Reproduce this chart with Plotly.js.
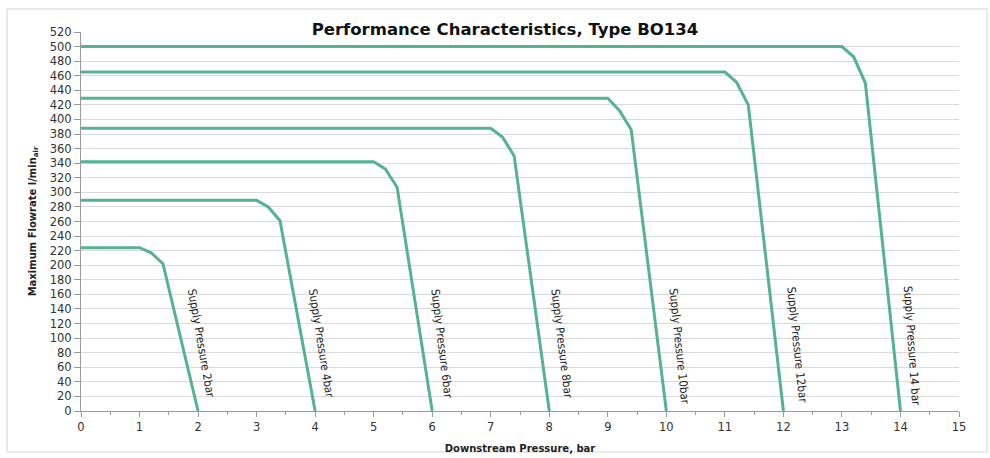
<!DOCTYPE html>
<html>
<head>
<meta charset="utf-8">
<script src="https://cdn.plot.ly/plotly-3.0.1.min.js"></script>
<style>html,body{margin:0;padding:0;background:#fff;}#chart{width:990px;height:458px;}</style>
</head>
<body>
<div id="chart"></div>
<script>
// ---- data ----
const seriesNames = ["Supply Pressure 2bar", "Supply Pressure 4bar", "Supply Pressure 6bar",
  "Supply Pressure 8bar", "Supply Pressure 10bar", "Supply Pressure 12bar", "Supply Pressure 14 bar"];
const x2 = [0, 1.0, 1.2, 1.4, 2.0];
const y2 = [224, 224, 217, 202, 0];
const x4 = [0, 3.0, 3.2, 3.4, 4.0];
const y4 = [289, 289, 280, 261, 0];
const x6 = [0, 5.0, 5.2, 5.4, 6.0];
const y6 = [342, 342, 332, 307, 0];
const x8 = [0, 7.0, 7.2, 7.4, 8.0];
const y8 = [388, 388, 376, 350, 0];
const x10 = [0, 9.0, 9.2, 9.4, 10.0];
const y10 = [429, 429, 412, 386, 0];
const x12 = [0, 11.0, 11.2, 11.4, 12.0];
const y12 = [465, 465, 451, 420, 0];
const x14 = [0, 13.0, 13.2, 13.4, 14.0];
const y14 = [500, 500, 486, 450, 0];
const xs = [x2, x4, x6, x8, x10, x12, x14];
const ys = [y2, y4, y6, y8, y10, y12, y14];

// ---- label placement (style) ----
const labelX = [2.05, 4.1, 6.16, 8.21, 10.22, 12.23, 14.19];
const labelY = [93, 93, 93, 93, 89, 90, 90];
const labelAngle = [80, 81, 83, 83, 84, 84, 86];

const lineColor = "#55b293";
const traces = xs.map((x, i) => ({
  x: x, y: ys[i], type: "scatter", mode: "lines", name: seriesNames[i],
  line: {color: lineColor, width: 3}, hoverinfo: "skip"
}));

const annotations = seriesNames.map((t, i) => ({
  x: labelX[i], y: labelY[i], xref: "x", yref: "y", text: t, showarrow: false,
  textangle: labelAngle[i],
  font: {family: "Liberation Sans Narrow, DejaVu Sans Condensed, sans-serif", size: 11.5, color: "#222"}
}));

const L = 81, R = 959, T = 32, B = 411, W = 990, H = 458;
const pw = R - L, ph = B - T;
const shapes = [{
  type: "rect", xref: "paper", yref: "paper",
  x0: (7 - L) / pw, x1: (987 - L) / pw, y0: (B - 452) / ph, y1: (B - 9) / ph,
  line: {color: "#d4d4d4", width: 1}, fillcolor: "rgba(0,0,0,0)", layer: "below"
}];

const layout = {
  width: W, height: H,
  margin: {l: L, r: W - R, t: T, b: H - B, pad: 0},
  paper_bgcolor: "#fff", plot_bgcolor: "#fff",
  showlegend: false,
  title: {
    text: "<b>Performance Characteristics, Type BO134</b>",
    font: {family: "DejaVu Sans, Verdana, sans-serif", size: 16.5, color: "#111"},
    x: 505 / W, xanchor: "center", y: 1 - 29 / H, yanchor: "middle"
  },
  xaxis: {
    range: [0, 15], dtick: 1, tick0: 0,
    showgrid: false, zeroline: false,
    showline: true, linecolor: "#9a9a9a", linewidth: 1,
    ticks: "outside", ticklen: 5, tickcolor: "#9a9a9a",
    minor: {dtick: 0.5, ticks: "outside", ticklen: 3, tickcolor: "#9a9a9a", showgrid: false},
    tickfont: {family: "DejaVu Sans, Verdana, sans-serif", size: 11.5, color: "#333"},
    title: {text: "<b>Downstream Pressure, bar</b>", standoff: 12,
      font: {family: "DejaVu Sans, Verdana, sans-serif", size: 10, color: "#222"}},
    fixedrange: true
  },
  yaxis: {
    range: [0, 520], dtick: 20, tick0: 0,
    showgrid: true, gridcolor: "#dadada", gridwidth: 1,
    zeroline: false,
    showline: true, linecolor: "#9a9a9a", linewidth: 1,
    ticks: "outside", ticklen: 6, tickcolor: "#9a9a9a",
    tickfont: {family: "DejaVu Sans, Verdana, sans-serif", size: 11.5, color: "#333"},
    title: {text: "<b>Maximum Flowrate l/min<sub>air</sub></b>", standoff: 11,
      font: {family: "DejaVu Sans, Verdana, sans-serif", size: 10, color: "#222"}},
    fixedrange: true
  },
  annotations: annotations,
  shapes: shapes
};

Plotly.newPlot("chart", traces, layout, {displayModeBar: false, staticPlot: true});
</script>
</body>
</html>
